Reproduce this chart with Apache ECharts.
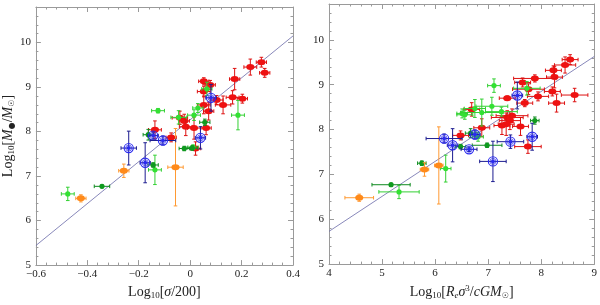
<!DOCTYPE html>
<html><head><meta charset="utf-8">
<script src="https://cdn.jsdelivr.net/npm/echarts@6/dist/echarts.min.js"></script>
<style>html,body{margin:0;padding:0;background:#fff}#c{width:600px;height:305px}</style>
</head><body><div id="c"></div>
<script>
// ---- data: [x, y, xErr, yErr] ----
// Left panel: Log10[sigma/200] vs Log10[M/Msun]
const leftRed = [
  [0.277,9.56,0.02,0.11],[0.29,9.32,0.02,0.10],[0.234,9.45,0.025,0.18],[0.173,9.18,0.02,0.24],
  [0.053,9.13,0.02,0.08],[0.078,9.05,0.02,0.10],[0.053,8.90,0.025,0.12],[0.103,8.71,0.025,0.10],
  [0.165,8.77,0.025,0.15],[0.203,8.74,0.02,0.10],[0.128,8.60,0.03,0.20],[0.053,8.60,0.025,0.20],
  [0.072,8.46,0.02,0.20],[-0.04,8.31,0.03,0.15],[-0.023,8.24,0.02,0.15],[-0.017,8.11,0.025,0.20],
  [0.015,8.08,0.025,0.25],[0.062,8.08,0.02,0.15],[-0.137,8.04,0.025,0.20],[-0.074,7.87,0.02,0.10],
  [0.021,7.62,0.02,0.15]
];
const leftGreen = [
  [0.065,8.96,0.02,0.15],[0.186,8.37,0.025,0.33],[-0.125,8.47,0.025,0.05],[0.03,8.53,0.02,0.10],
  [0.015,8.37,0.025,0.12],[-0.045,8.32,0.03,0.15],[-0.137,7.14,0.025,0.33],[-0.476,6.60,0.025,0.15],
  [0.011,7.65,0.02,0.05]
];
const leftDarkGreen = [
  [0.057,8.21,0.02,0.07],[-0.163,7.93,0.02,0.12],[-0.144,7.25,0.02,0.05],[-0.343,6.77,0.03,0.03],
  [-0.023,7.62,0.02,0.05],[0.008,7.63,0.02,0.05]
];
const leftBlue = [
  [0.081,8.76,0.02,0.30],[-0.144,7.91,0.02,0.08],[-0.106,7.80,0.05,0.10],[0.04,7.86,0.02,0.25],
  [-0.239,7.63,0.03,0.38],[-0.175,7.30,0.02,0.45]
];
const leftOrange = [
  [-0.258,7.12,0.02,0.15],[-0.057,7.20,0.03,0.87],[-0.425,6.50,0.02,0.08]
];
const leftFit = [[-0.6,5.44],[0.4,10.15]];

// Right panel: Log10[Re sigma^3 / c G Msun] vs Log10[M/Msun]
const rightRed = [
  [8.545,9.56,0.15,0.11],[8.45,9.44,0.2,0.18],[8.23,9.32,0.15,0.10],[8.25,9.17,0.15,0.24],
  [7.88,9.14,0.4,0.08],[7.65,9.05,0.15,0.10],[7.76,8.90,0.3,0.12],[8.21,8.85,0.15,0.10],
  [8.63,8.77,0.25,0.15],[7.94,8.74,0.2,0.10],[7.36,8.70,0.15,0.05],[8.29,8.59,0.15,0.20],
  [7.69,8.59,0.15,0.08],[6.69,8.45,0.15,0.15],[7.36,8.27,0.3,0.15],[7.45,8.31,0.3,0.15],
  [7.41,8.20,0.2,0.20],[7.26,8.09,0.15,0.20],[7.34,8.12,0.15,0.25],[7.61,8.07,0.15,0.20],
  [6.88,8.04,0.15,0.20],[6.48,7.87,0.15,0.10],[7.75,7.62,0.25,0.15]
];
const rightGreen = [
  [7.11,8.98,0.12,0.15],[7.73,8.92,0.25,0.15],[6.56,8.33,0.15,0.10],[6.51,8.36,0.10,0.10],
  [6.75,8.47,0.2,0.2],[6.88,8.38,0.4,0.3],[7.07,8.52,0.3,0.2],[7.25,8.40,0.3,0.10],
  [6.81,7.84,0.10,0.10],[6.20,7.13,0.10,0.30],[5.32,6.61,0.38,0.15]
];
const rightDarkGreen = [
  [7.88,8.20,0.08,0.08],[6.67,7.92,0.10,0.10],[6.48,7.62,0.10,0.05],[6.98,7.65,0.28,0.05],
  [5.75,7.25,0.08,0.05],[5.17,6.77,0.36,0.03]
];
const rightBlue = [
  [7.55,8.76,0.10,0.30],[6.75,7.89,0.10,0.10],[6.17,7.80,0.34,0.10],[6.33,7.65,0.10,0.37],
  [6.64,7.56,0.15,0.05],[7.42,7.73,0.25,0.15],[7.83,7.84,0.10,0.30],[7.09,7.29,0.25,0.45]
];
const rightOrange = [
  [5.80,7.11,0.08,0.15],[6.07,7.20,0.08,0.86],[4.57,6.48,0.27,0.08]
];
const rightFit = [[4,5.73],[9,9.63]];

const leftXTicks = {min:-0.6, max:0.4, interval:0.2};
const rightXTicks = {min:4, max:9, interval:1};
const yTicks = {min:5, max:10.8, interval:1};

// ---- styling ----
const SERIF = 'Liberation Serif';
const FRAME = '#9a9a9a';
const COLORS = {
  red:{fill:'#ee1111', bar:'#dd1111'},
  green:{fill:'#33e033', bar:'#33d033'},
  dark:{fill:'#0f9a1f', bar:'#0f8a1f'},
  blue:{fill:'#2a2af0', bar:'#1c1c90'},
  orange:{fill:'#ff8a1a', bar:'#ff9a33'}
};

function makeRender(kind){
  const col = COLORS[kind];
  return function(params, api){
    const x=api.value(0), y=api.value(1), xe=api.value(2), ye=api.value(3);
    const c=api.coord([x,y]);
    const l=api.coord([x-xe,y]), r=api.coord([x+xe,y]);
    const t=api.coord([x,y+ye]), b=api.coord([x,y-ye]);
    const cap=1.8;
    const st={stroke:col.bar, lineWidth:1};
    const ch=[
      {type:'line',shape:{x1:l[0],y1:c[1],x2:r[0],y2:c[1]},style:st},
      {type:'line',shape:{x1:l[0],y1:c[1]-cap,x2:l[0],y2:c[1]+cap},style:st},
      {type:'line',shape:{x1:r[0],y1:c[1]-cap,x2:r[0],y2:c[1]+cap},style:st},
      {type:'line',shape:{x1:c[0],y1:t[1],x2:c[0],y2:b[1]},style:st},
      {type:'line',shape:{x1:c[0]-cap,y1:t[1],x2:c[0]+cap,y2:t[1]},style:st},
      {type:'line',shape:{x1:c[0]-cap,y1:b[1],x2:c[0]+cap,y2:b[1]},style:st}
    ];
    if(kind==='blue'){
      ch.push({type:'circle',shape:{cx:c[0],cy:c[1],r:4.6},style:{fill:'none',stroke:col.fill,lineWidth:1.1}});
      ch.push({type:'circle',shape:{cx:c[0],cy:c[1],r:3},style:{fill:'none',stroke:col.fill,lineWidth:0.7}});
      ch.push({type:'circle',shape:{cx:c[0],cy:c[1],r:2},style:{fill:col.fill}});
    } else if(kind==='red' || kind==='orange'){
      ch.push({type:'circle',shape:{cx:0,cy:0,r:3},x:c[0],y:c[1],scaleX:1.35,style:{fill:col.fill}});
    } else {
      ch.push({type:'circle',shape:{cx:c[0],cy:c[1],r:2.6},style:{fill:col.fill}});
    }
    return {type:'group',children:ch};
  };
}

function errSeries(data, kind, gi){
  return {type:'custom', xAxisIndex:gi*2, yAxisIndex:gi*2, data:data, renderItem:makeRender(kind), z:kind==='blue'?5:3};
}
function fitSeries(data, gi){
  return {type:'line', xAxisIndex:gi*2, yAxisIndex:gi*2, data:data, symbol:'none',
    lineStyle:{color:'#6a6aa8', width:0.8}, z:2, silent:true};
}

const minus = v => String(Math.round(v*10)/10).replace('-', '\u2212');
const tickLabel = {color:'#222', fontFamily:SERIF, fontSize:11};

const rich = {
  t:{fontFamily:SERIF,fontSize:14,color:'#222'},
  i:{fontFamily:SERIF,fontSize:14,color:'#222',fontStyle:'italic'},
  s:{fontFamily:SERIF,fontSize:9,color:'#222',padding:[7,0,0,0]},
  si:{fontFamily:SERIF,fontSize:9,color:'#222',fontStyle:'italic',padding:[7,0,0,0]},
  sup:{fontFamily:SERIF,fontSize:9,color:'#222',padding:[0,0,7,0]},
  sym:{fontFamily:'DejaVu Sans',fontSize:8,color:'#222',padding:[7,0,0,0]}
};

function xAxes(gi, tk, name, nameGap){
  const base = {gridIndex:gi, type:'value', min:tk.min, max:tk.max, interval:tk.interval,
    axisLine:{show:true,onZero:false,lineStyle:{color:FRAME,width:1}},
    axisTick:{show:true,inside:true,length:5,lineStyle:{color:FRAME}},
    minorTick:{show:true,splitNumber:5,length:2.5,lineStyle:{color:FRAME}},
    splitLine:{show:false}};
  return [
    Object.assign({}, base, {position:'bottom',
      axisLabel:Object.assign({margin:4, formatter:v=>gi===0?minus(v):String(v)}, tickLabel),
      name:name, nameLocation:'middle', nameGap:nameGap, nameTextStyle:{rich:rich}}),
    Object.assign({}, base, {position:'top', axisLabel:{show:false}})
  ];
}
function yAxes(gi, name){
  const base = {gridIndex:gi, type:'value', min:yTicks.min, max:yTicks.max, interval:yTicks.interval,
    axisLine:{show:true,onZero:false,lineStyle:{color:FRAME,width:1}},
    axisTick:{show:true,inside:true,length:5,lineStyle:{color:FRAME}},
    minorTick:{show:true,splitNumber:5,length:2.5,lineStyle:{color:FRAME}},
    splitLine:{show:false}};
  const a = Object.assign({}, base, {position:'left',
      axisLabel:Object.assign({margin:5, showMaxLabel:false}, tickLabel)});
  if(name){ Object.assign(a,{name:name,nameLocation:'middle',nameGap:14,nameRotate:90,nameTextStyle:{rich:rich}}); }
  return [a, Object.assign({}, base, {position:'right', axisLabel:{show:false}})];
}

const chart = echarts.init(document.getElementById('c'), null, {renderer:'canvas'});
chart.setOption({
  animation:false,
  backgroundColor:'#fff',
  grid:[
    {left:30, top:7, width:263, height:264},
    {left:329, top:4, width:267, height:267}
  ],
  xAxis:[
    ...xAxes(0, leftXTicks, '{t|Log}{s|10}{t|[}{i|σ}{t|/200]}', 17),
    ...xAxes(1, rightXTicks, '{t|Log}{s|10}{t|[}{i|R}{si|e}{i|σ}{sup|3}{t|/}{i|cGM}{sym|☉}{t|]}', 17)
  ],
  yAxis:[
    ...yAxes(0, '{t|Log}{s|10}{t|[}{i|M}{sym|●}{t|/}{i|M}{sym|☉}{t|]}'),
    ...yAxes(1, null)
  ],
  series:[
    fitSeries(leftFit,0),
    errSeries(leftRed,'red',0),
    errSeries(leftGreen,'green',0),
    errSeries(leftDarkGreen,'dark',0),
    errSeries(leftOrange,'orange',0),
    errSeries(leftBlue,'blue',0),
    fitSeries(rightFit,1),
    errSeries(rightRed,'red',1),
    errSeries(rightGreen,'green',1),
    errSeries(rightDarkGreen,'dark',1),
    errSeries(rightOrange,'orange',1),
    errSeries(rightBlue,'blue',1)
  ]
});
</script></body></html>
